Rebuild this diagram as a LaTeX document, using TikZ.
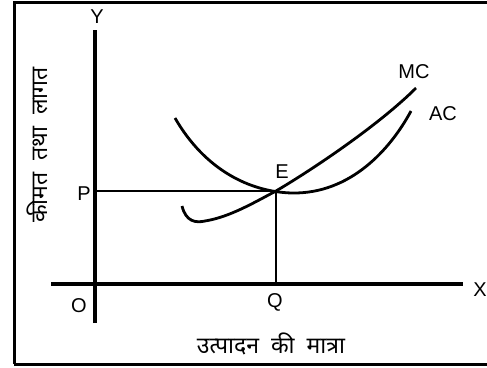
\documentclass[tikz,border=0pt]{standalone}
\usepackage{fontspec}
\setmainfont{Liberation Sans}
\newfontfamily\hindi[Script=Devanagari,WordSpace=2]{Noto Sans}
\begin{document}
\begin{tikzpicture}[x=1pt,y=-1pt,
  axis/.style={line width=3.2pt},
  guide/.style={line width=2.8pt},
  curve/.style={line width=2.8pt},
  lab/.style={inner sep=0pt,font=\fontsize{20}{22}\selectfont},
  hlab/.style={inner sep=0pt,font=\hindi\fontsize{23}{26}\selectfont}]
\useasboundingbox (0,0) rectangle (487,367);
\draw[line width=3pt] (14,364) -- (14,2) -- (500,2);
\draw[line width=3pt] (14,364) -- (500,364);
% axes
\coordinate (yb) at (95,323);
\coordinate (yt) at (95,30);
\coordinate (xl) at (51,284);
\coordinate (xr) at (463,284);
\coordinate (E) at (276,191);
\coordinate (Pa) at (95,191);
\coordinate (Qa) at (276,284);
\draw[axis] (yb) -- (yt);
\draw[axis] (xl) -- (xr);
\draw[guide] (Pa) -- (E) -- (Qa);
% MC
\draw[curve] (182,206) .. controls (186,222) and (196,223) .. (205,221)
  .. controls (230,217) and (255,202) .. (E)
  .. controls (315,168) and (380,124) .. (416,88);
% AC
\draw[curve] (175,118) .. controls (205,170) and (250,192) .. (292,193)
  .. controls (350,194) and (390,150) .. (411,111);
% labels
\node[lab] (Y) at (97,17) {Y};
\node[lab] (X) at (480,290) {X};
\node[lab] (O) at (79,306) {O};
\node[lab] (Q) at (275,302) {Q};
\node[lab] (P) at (84,194) {P};
\node[lab] (El) at (282,172) {E};
\node[lab] (MC) at (414,72) {MC};
\node[lab] (AC) at (443,114) {AC};
\node[hlab,rotate=90] (ylab) at (37,145) {कीमत तथा लागत};
\node[hlab] (xlab) at (271,344) {उत्पादन की मात्रा};
\end{tikzpicture}
\end{document}
